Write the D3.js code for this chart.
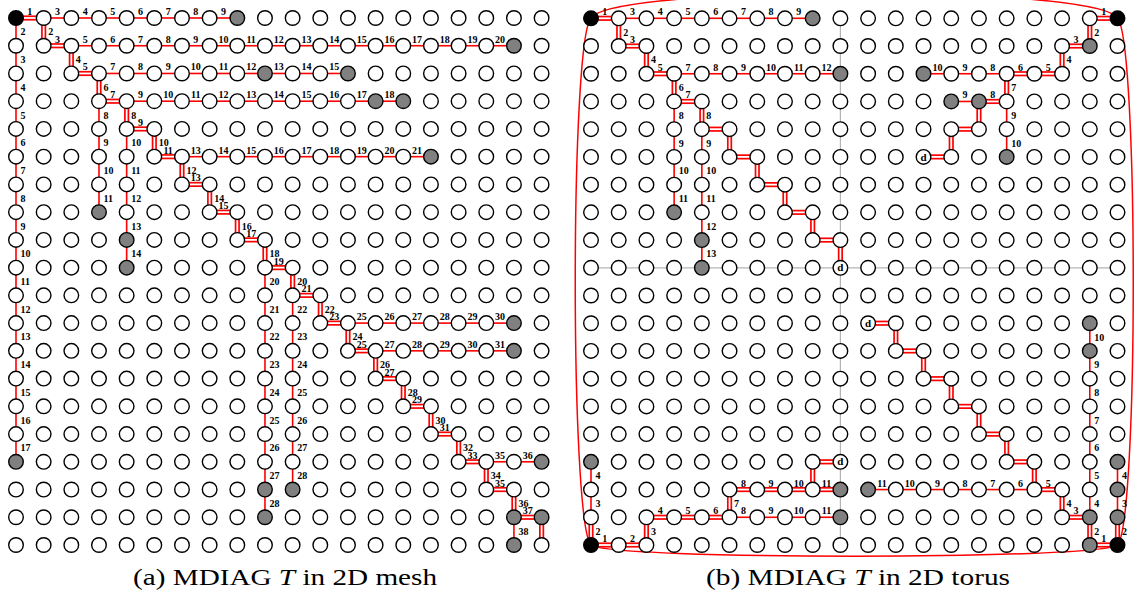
<!DOCTYPE html>
<html><head><meta charset="utf-8">
<script src="https://cdn.jsdelivr.net/npm/d3@7"></script>
<style>body{margin:0;background:#fff}svg{display:block}</style>
</head><body>
<svg id="c" width="1136" height="597"></svg>
<script>
// ---------- DATA ----------
// Runs: [startCol, startRow, direction, [label of each successive edge]]
// direction: r = right, l = left, d = down, u = up
const meshBlack = [[0,0]];
const meshGray = [[8,0],[18,1],[9,2],[12,2],[13,3],[14,3],[15,5],[3,7],[4,8],[4,9],[18,11],[18,12],[0,16],[19,16],[9,17],[10,17],[9,18],[18,18],[19,18],[18,19]];
const meshDoubleRuns = [
 [0,0,"r",["1"]],[1,0,"d",["2"]],[1,1,"r",["3"]],[2,1,"d",["4"]],[2,2,"r",["5"]],[3,2,"d",["6"]],
 [3,3,"r",["7"]],[4,3,"d",["8"]],[4,4,"r",["9"]],[5,4,"d",["10"]],[5,5,"r",["11"]],[6,5,"d",["12"]],
 [6,6,"r",["13"]],[7,6,"d",["14"]],[7,7,"r",["15"]],[8,7,"d",["16"]],[8,8,"r",["17"]],[9,8,"d",["18"]],
 [9,9,"r",["19"]],[10,9,"d",["20"]],[10,10,"r",["21"]],[11,10,"d",["22"]],[11,11,"r",["23"]],[12,11,"d",["24"]],
 [12,12,"r",["25"]],[13,12,"d",["26"]],[13,13,"r",["27"]],[14,13,"d",["28"]],[14,14,"r",["29"]],[15,14,"d",["30"]],
 [15,15,"r",["31"]],[16,15,"d",["32"]],[16,16,"r",["33"]],[17,16,"d",["34"]],[17,17,"r",["35"]],[18,17,"d",["36"]],
 [18,18,"r",["37"]],[19,18,"d",[""]]
];
const meshSingleRuns = [
 [1,0,"r",["3","4","5","6","7","8","9"]],
 [0,0,"d",["2","3","4","5","6","7","8","9","10","11","12","13","14","15","16","17"]],
 [2,1,"r",["5","6","7","8","9","10","11","12","13","14","15","16","17","18","19","20"]],
 [3,2,"r",["7","8","9","10","11","12","13","14","15"]],
 [4,3,"r",["9","10","11","12","13","14","15","16","17","18"]],
 [3,3,"d",["8","9","10","11"]],
 [4,4,"d",["10","11","12","13","14"]],
 [6,5,"r",["13","14","15","16","17","18","19","20","21"]],
 [9,9,"d",["20","21","22","23","24","25","26","27","28"]],
 [10,10,"d",["22","23","24","25","26","27","28"]],
 [12,11,"r",["25","26","27","28","29","30"]],
 [13,12,"r",["27","28","29","30","31"]],
 [17,16,"r",["35","36"]],
 [18,18,"d",["38"]]
];

const torusBlack = [[0,0],[19,0],[0,19],[19,19]];
const torusDest = [[9,9],[12,5],[9,16],[10,11]];
const torusGray = [[8,0],[9,2],[3,7],[4,8],[4,9],[18,1],[12,2],[13,3],[14,3],[15,5],
  [0,16],[9,17],[9,18],[18,11],[18,12],[10,17],[19,16],[19,17],[19,18],[18,18],[18,19]];
const torusDoubleRuns = [
 // top-left
 [0,0,"r",["1"]],[1,0,"d",["2"]],[1,1,"r",["3"]],[2,1,"d",["4"]],[2,2,"r",["5"]],[3,2,"d",["6"]],
 [3,3,"r",["7"]],[4,3,"d",["8"]],[4,4,"r",[""]],[5,4,"d",[""]],[5,5,"r",[""]],[6,5,"d",[""]],
 [6,6,"r",[""]],[7,6,"d",[""]],[7,7,"r",[""]],[8,7,"d",[""]],[8,8,"r",[""]],[9,8,"d",[""]],
 // top-right
 [19,0,"l",["1"]],[18,0,"d",["2"]],[18,1,"l",["3"]],[17,1,"d",["4"]],[17,2,"l",["5","6"]],[15,2,"d",["7"]],
 [15,3,"l",["8"]],[14,3,"d",[""]],[14,4,"l",[""]],[13,4,"d",[""]],[13,5,"l",[""]],
 // bottom-left
 [0,19,"r",["1","2"]],[0,19,"u",["2"]],[2,19,"u",["3"]],[2,18,"r",["4","5","6"]],[5,18,"u",["7"]],
 [5,17,"r",["8","9","10","11"]],[8,17,"u",[""]],[8,16,"r",[""]],
 // bottom-right
 [19,19,"l",["1"]],[19,19,"u",["2"]],[18,19,"u",["2"]],[18,18,"l",["3"]],[17,18,"u",["4"]],[17,17,"l",["5"]],
 [16,17,"u",[""]],[16,16,"l",[""]],[15,16,"u",[""]],[15,15,"l",[""]],[14,15,"u",[""]],[14,14,"l",[""]],
 [13,14,"u",[""]],[13,13,"l",[""]],[12,13,"u",[""]],[12,12,"l",[""]],[11,12,"u",[""]],[11,11,"l",[""]]
];
const torusSingleRuns = [
 [1,0,"r",["3","4","5","6","7","8","9"]],
 [3,2,"r",["7","8","9","10","11","12"]],
 [3,3,"d",["8","9","10","11"]],
 [4,4,"d",["9","10","11","12","13"]],
 [15,2,"l",["8","9","10"]],
 [14,3,"l",["9"]],
 [15,3,"d",["9","10"]],
 [0,18,"u",["3","4"]],
 [5,18,"r",["8","9","10","11"]],
 [16,17,"l",["6","7","8","9","10","11"]],
 [18,18,"u",["4","5","6","7","8","9","10"]],
 [19,18,"u",["3","4"]]
];
const captionA = ["(a) MDIAG ", "T", " in 2D mesh"];
const captionB = ["(b) MDIAG ", "T", " in 2D torus"];

// ---------- DRAW ----------
const svg = d3.select("#c");
const R = 7.3;
const step = {r:[1,0], l:[-1,0], d:[0,1], u:[0,-1]};

function expand(runs, dbl){
  const out = [];
  runs.forEach(([c,r,dir,labels]) => {
    let cc = c, rr = r;
    labels.forEach(lb => {
      const [dc,dr] = step[dir];
      out.push({c1:cc, r1:rr, c2:cc+dc, r2:rr+dr, label:lb, dbl:dbl});
      cc += dc; rr += dr;
    });
  });
  return out;
}

function panel(cfg){
  const g = svg.append("g");
  const x = d3.scaleLinear().domain([0,19]).range(cfg.xr);
  const y = d3.scaleLinear().domain([0,19]).range(cfg.yr);
  const idx = d3.range(20);

  if (cfg.frame){
    const x0 = x(0), x1 = x(19), y0 = y(0), y1 = y(19);
    const fr = g.append("g").attr("fill","none").attr("stroke","#f00").attr("stroke-width",1.5);
    fr.append("path").attr("d",`M${x0},${y0}C${x0+19},${y0-34} ${x1-19},${y0-34} ${x1},${y0}`);
    fr.append("path").attr("d",`M${x0},${y0}C${x0-21},${y0+22} ${x0-21},${y1-22} ${x0},${y1}`);
    fr.append("path").attr("d",`M${x1},${y0}C${x1+21},${y0+22} ${x1+21},${y1-22} ${x1},${y1}`);
    fr.append("path").attr("d",`M${x0},${y1}C${x0+19},${y1+15} ${x1-19},${y1+15} ${x1},${y1}`);
  }
  if (cfg.cross){
    g.append("line").attr("x1",x(cfg.cross[0])).attr("x2",x(cfg.cross[0])).attr("y1",y(0)).attr("y2",y(19))
      .attr("stroke","#b4b4b4").attr("stroke-width",1.2);
    g.append("line").attr("y1",y(cfg.cross[1])).attr("y2",y(cfg.cross[1])).attr("x1",x(0)).attr("x2",x(19))
      .attr("stroke","#b4b4b4").attr("stroke-width",1.2);
  }
  const edges = expand(cfg.single,false).concat(expand(cfg.double,true));
  const eg = g.append("g");
  edges.filter(e=>!e.dbl).forEach(e=>{
    eg.append("line").attr("x1",x(e.c1)).attr("y1",y(e.r1)).attr("x2",x(e.c2)).attr("y2",y(e.r2))
      .attr("stroke","#f00").attr("stroke-width",1.6);
  });
  edges.filter(e=>e.dbl).forEach(e=>{
    eg.append("line").attr("x1",x(e.c1)).attr("y1",y(e.r1)).attr("x2",x(e.c2)).attr("y2",y(e.r2))
      .attr("stroke","#f00").attr("stroke-width",5.2);
    eg.append("line").attr("x1",x(e.c1)).attr("y1",y(e.r1)).attr("x2",x(e.c2)).attr("y2",y(e.r2))
      .attr("stroke","#fff").attr("stroke-width",1.8);
  });
  // nodes
  const key = (c,r)=>c+","+r;
  const black = new Set(cfg.black.map(p=>key(...p)));
  const gray = new Set(cfg.gray.map(p=>key(...p)));
  const dest = new Set((cfg.dest||[]).map(p=>key(...p)));
  const nodes = [];
  idx.forEach(r=>idx.forEach(c=>nodes.push({c,r})));
  g.append("g").selectAll("circle").data(nodes).join("circle")
    .attr("cx",d=>x(d.c)).attr("cy",d=>y(d.r)).attr("r",R)
    .attr("fill",d=>black.has(key(d.c,d.r))?"#000":gray.has(key(d.c,d.r))?"#808080":"#fff")
    .attr("stroke","#000").attr("stroke-width",1.4);
  g.append("g").selectAll("text").data(nodes.filter(d=>dest.has(key(d.c,d.r)))).join("text")
    .attr("x",d=>x(d.c)).attr("y",d=>y(d.r)+3.6).attr("text-anchor","middle")
    .attr("font-family","Liberation Serif").attr("font-weight","bold").attr("font-size",11).text("d");
  // labels
  g.append("g").selectAll("text").data(edges.filter(e=>e.label)).join("text")
    .attr("font-family","Liberation Serif").attr("font-weight","bold").attr("font-size",10)
    .attr("text-anchor",e=>e.r1===e.r2?"middle":"start")
    .attr("x",e=>e.r1===e.r2?(x(e.c1)+x(e.c2))/2:x(e.c1)+4.5)
    .attr("y",e=>e.r1===e.r2?y(e.r1)-3:(y(e.r1)+y(e.r2))/2+3.5)
    .text(e=>e.label);
  // caption
  const t = g.append("text").attr("x",cfg.capX).attr("y",585).attr("text-anchor","middle")
    .attr("font-family","Liberation Serif").attr("font-size",24)
    .attr("textLength",cfg.capW).attr("lengthAdjust","spacingAndGlyphs");
  t.append("tspan").text(cfg.caption[0]);
  t.append("tspan").attr("font-style","italic").text(cfg.caption[1]);
  t.append("tspan").text(cfg.caption[2]);
}

panel({xr:[16,541.6], yr:[18,545], black:meshBlack, gray:meshGray, double:meshDoubleRuns, single:meshSingleRuns,
  caption:captionA, capX:285, capW:304});
panel({xr:[591,1117.5], yr:[18.3,545], black:torusBlack, gray:torusGray, dest:torusDest,
  double:torusDoubleRuns, single:torusSingleRuns, frame:true, cross:[9,9],
  caption:captionB, capX:858, capW:304});
</script>
</body></html>
